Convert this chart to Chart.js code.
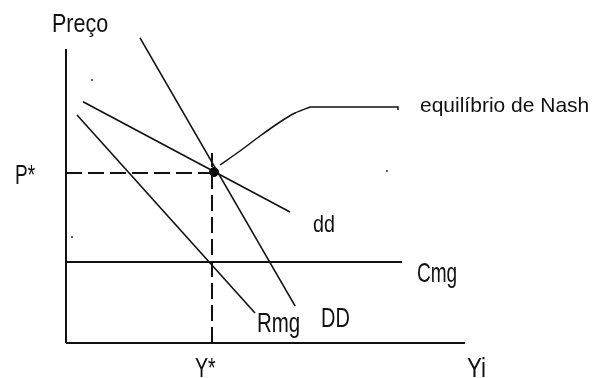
<!DOCTYPE html>
<html>
<head>
<meta charset="utf-8">
<script src="https://cdn.jsdelivr.net/npm/chart.js@4"></script>
<style>
	html, body { margin: 0; padding: 0; background: #fff; }
	#wrap { width: 593px; height: 378px; position: relative; }
</style>
</head>
<body>
<div id="wrap"><canvas id="chart"></canvas></div>
<script>

// values (x = quantity, y = price)
const axisYX = [0, 0];       const axisYY = [0, 7.35];
const axisXX = [0, 9.975];   const axisXY = [0, 0];
const cmgX = [0, 8.4];       const cmgY = [2.025, 2.025];
const ddX = [0.425, 5.6];    const ddY = [6.03, 3.275];
const bigDDX = [1.85, 5.73]; const bigDDY = [7.63, 0.92];
const rmgX = [0.275, 4.725]; const rmgY = [5.7, 0.75];
const pStarX = [0, 3.7];     const pStarY = [4.25, 4.25];
const yStarX = [3.65, 3.65]; const yStarY = [0, 4.75];
const nashX = [3.85, 4.35, 4.85, 5.35, 5.725, 6.1];
const nashY = [4.45, 4.8, 5.175, 5.525, 5.75, 5.9];
const leaderX = [6.1, 8.3, 8.3];
const leaderY = [5.9, 5.9, 5.825];
const eqX = [3.7];           const eqY = [4.275];
const specksX = [0.65, 0.15, 8.025];
const specksY = [6.575, 2.65, 4.3];

function pts(xs, ys) {
	return xs.map(function(v, i) { return {x: v, y: ys[i]}; });
}

function seg(xs, ys, width, dash) {
	return {
		data: pts(xs, ys),
		borderColor: '#111',
		borderWidth: width,
		borderDash: dash || [],
		pointRadius: 0,
		fill: false,
		tension: 0,
		clip: false
	};
}

const labels = [
	{text: 'Preço', x: -0.35, y: 7.775, size: 25, sx: 0.86},
	{text: 'equilíbrio de Nash', x: 8.85, y: 5.775, size: 21, sx: 1.0},
	{text: 'P*', x: -1.275, y: 3.975, size: 28, sx: 0.68},
	{text: 'Y*', x: 3.225, y: -0.85, size: 28, sx: 0.7},
	{text: 'Rmg', x: 4.775, y: 0.275, size: 28, sx: 0.73},
	{text: 'dd', x: 6.175, y: 2.775, size: 24, sx: 0.82},
	{text: 'Cmg', x: 8.775, y: 1.525, size: 28, sx: 0.68},
	{text: 'DD', x: 6.375, y: 0.4, size: 27, sx: 0.74},
	{text: 'Yi', x: 10.025, y: -0.85, size: 27, sx: 0.83}
];

const labelPlugin = {
	id: 'labels',
	afterDraw(chart) {
		const ctx = chart.ctx;
		const sx = chart.scales.x;
		const sy = chart.scales.y;
		ctx.save();
		ctx.fillStyle = '#111';
		ctx.textBaseline = 'alphabetic';
		ctx.textAlign = 'left';
		labels.forEach(function(l) {
			ctx.save();
			ctx.font = l.size + 'px "Liberation Sans", Arial, sans-serif';
			ctx.translate(sx.getPixelForValue(l.x), sy.getPixelForValue(l.y));
			ctx.scale(l.sx, 1);
			ctx.fillText(l.text, 0, 0);
			ctx.restore();
		});
		ctx.restore();
	}
};

const nash = seg(nashX, nashY, 1.5);
nash.tension = 0.25;

const datasets = [
	seg(axisYX, axisYY, 2),
	seg(axisXX, axisXY, 2),
	seg(cmgX, cmgY, 2),
	seg(pStarX, pStarY, 2, [16, 6]),
	seg(yStarX, yStarY, 2, [16, 6]),
	seg(ddX, ddY, 1.6),
	seg(bigDDX, bigDDY, 1.6),
	seg(rmgX, rmgY, 1.6),
	nash,
	seg(leaderX, leaderY, 1.5),
	{
		data: pts(eqX, eqY),
		showLine: false,
		pointRadius: 4.5,
		pointBackgroundColor: '#000',
		pointBorderColor: '#000',
		clip: false
	},
	{
		data: pts(specksX, specksY),
		showLine: false,
		pointRadius: 1,
		pointBorderWidth: 0,
		pointBackgroundColor: '#333',
		clip: false
	}
];

new Chart(document.getElementById('chart').getContext('2d'), {
	type: 'line',
	data: {datasets: datasets},
	options: {
		responsive: true,
		maintainAspectRatio: false,
		animation: false,
		events: [],
		layout: {padding: {left: 66, right: 127, top: 23, bottom: 35}},
		plugins: {
			legend: {display: false},
			tooltip: {enabled: false}
		},
		scales: {
			x: {type: 'linear', min: 0, max: 10, display: false},
			y: {type: 'linear', min: 0, max: 8, display: false}
		}
	},
	plugins: [labelPlugin]
});

</script>
</body>
</html>
